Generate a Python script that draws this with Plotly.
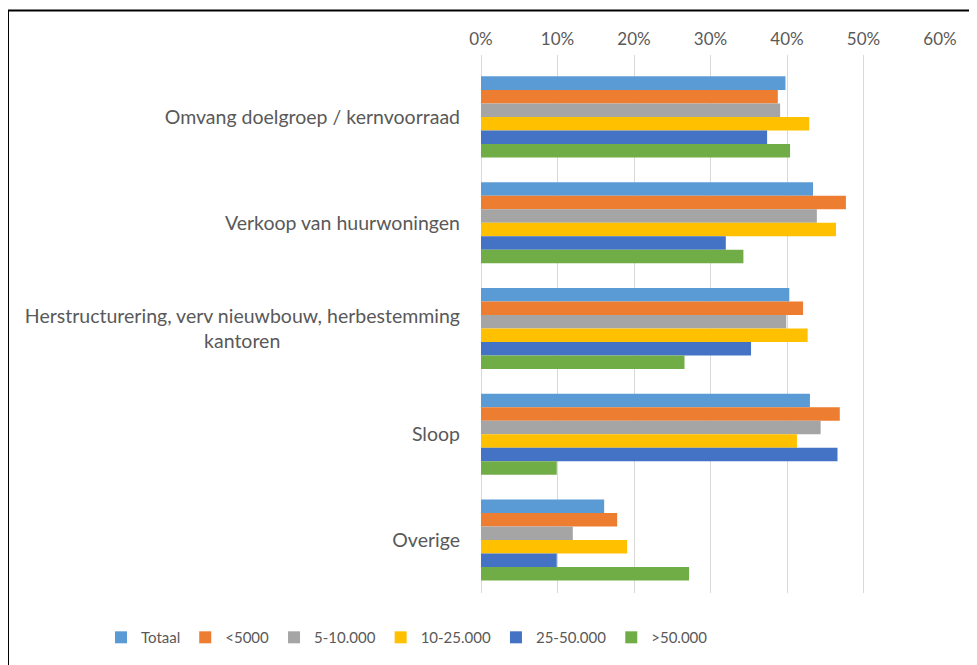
import plotly.graph_objects as go

categories = [
    "Omvang doelgroep / kernvoorraad",
    "Verkoop van huurwoningen",
    "Herstructurering, verv nieuwbouw, herbestemming<br>kantoren" + "\u00a0" * 36,
    "Sloop",
    "Overige",
]
series_names = ["Totaal", "<5000", "5-10.000", "10-25.000", "25-50.000", ">50.000"]
totaal = [0.398, 0.434, 0.403, 0.430, 0.161]
lt5000 = [0.388, 0.477, 0.421, 0.469, 0.178]
v5_10 = [0.391, 0.439, 0.399, 0.444, 0.120]
v10_25 = [0.429, 0.464, 0.427, 0.413, 0.191]
v25_50 = [0.374, 0.320, 0.353, 0.466, 0.099]
gt50 = [0.404, 0.343, 0.266, 0.099, 0.272]
values = [totaal, lt5000, v5_10, v10_25, v25_50, gt50]
colors = ["#5B9BD5", "#ED7D31", "#A5A5A5", "#FFC000", "#4472C4", "#70AD47"]
x_ticks = [0, 0.1, 0.2, 0.3, 0.4, 0.5, 0.6]

FONT = "Lato"
fig = go.Figure()
for name, vals, col in zip(series_names, values, colors):
    fig.add_trace(go.Bar(
        y=categories, x=vals, name=name, orientation="h",
        marker=dict(color=col, line=dict(width=0)),
    ))

# page body has an 8px margin: work in figure coordinates (screen - 8)
OFF = 8
W, H = 977 - OFF, 665 - OFF
left, right_px = 481 - OFF, 940 - OFF
top, bottom_px = 55 - OFF, 593.4 - OFF
pw, ph = right_px - left, bottom_px - top

fig.update_layout(
    width=W, height=H,
    margin=dict(l=left, r=W - right_px, t=top, b=H - bottom_px, pad=0, autoexpand=False),
    barmode="group", bargap=0.234, bargroupgap=0,
    plot_bgcolor="white", paper_bgcolor="white",
    font=dict(family=FONT, color="#595959"),
    showlegend=True,
    legend=dict(
        orientation="h", x=(101 - OFF - left) / pw, xanchor="left",
        y=(bottom_px - (638 - OFF)) / ph, yanchor="middle",
        font=dict(size=15, color="#595959", family=FONT),
        itemwidth=30,
    ),
    xaxis=dict(
        side="top", range=[0, 0.6], tickvals=x_ticks, tickformat=".0%",
        showgrid=True, gridcolor="#D9D9D9", gridwidth=1,
        zeroline=True, zerolinecolor="#D9D9D9", zerolinewidth=1,
        showline=False, ticks="", ticklabelstandoff=6,
        tickfont=dict(size=17, color="#595959", family=FONT),
    ),
    yaxis=dict(
        range=[4.5, -0.585], showgrid=False, zeroline=False, showline=False,
        ticks="", ticklabelstandoff=20,
        tickfont=dict(size=19.5, color="#595959", family=FONT),
    ),
    shapes=[dict(
        type="rect", xref="paper", yref="paper",
        x0=(0 - left) / pw, x1=(W + 20 - left) / pw,
        y0=(bottom_px - (H + 20)) / ph, y1=(bottom_px - 2.5) / ph,
        line=dict(color="black", width=2), fillcolor="rgba(0,0,0,0)", layer="above",
    )],
)

fig.write_html("out.html")
